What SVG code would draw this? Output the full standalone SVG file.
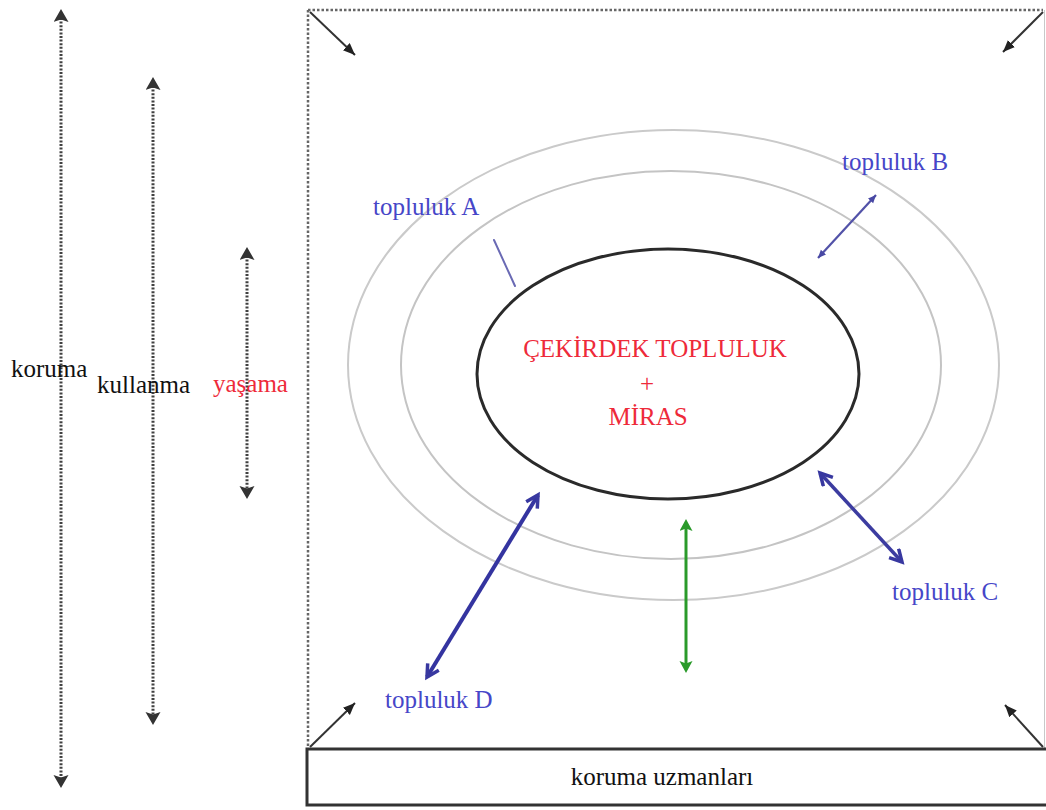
<svg xmlns="http://www.w3.org/2000/svg" width="1046" height="810" viewBox="0 0 1046 810">
<defs>
<style>
.t{font-family:"Liberation Serif","Times New Roman",serif;font-size:25px}
.blue{fill:#4646c8}
.red{fill:#ee2a3a}
.blk{fill:#111}
.dots{stroke:#404040;stroke-width:3;stroke-dasharray:2 1.6;fill:none}
.frame{stroke:#666;stroke-width:2.5;stroke-dasharray:2.5 2;fill:none}
.corner{stroke:#333;stroke-width:2;fill:none}
</style>
<marker id="mDot" markerUnits="userSpaceOnUse" markerWidth="16" markerHeight="16" refX="4" refY="7.5" orient="auto-start-reverse" viewBox="0 0 16 16">
<path d="M0,0 L13,7.5 L0,15 L2.5,7.5 z" fill="#333"/>
</marker>
<marker id="mCorner" markerUnits="userSpaceOnUse" markerWidth="14" markerHeight="12" refX="12" refY="5" orient="auto" viewBox="0 0 14 12">
<path d="M0,0 L12,5 L0,10 z" fill="#222"/>
</marker>
<marker id="mB" markerUnits="userSpaceOnUse" markerWidth="10" markerHeight="10" refX="8" refY="3.5" orient="auto-start-reverse" viewBox="0 0 10 10">
<path d="M0,0 L8,3.5 L0,7 z" fill="#4848a4"/>
</marker>
<marker id="mBig" markerUnits="userSpaceOnUse" markerWidth="18" markerHeight="18" refX="13" refY="8" orient="auto-start-reverse" viewBox="0 0 18 18">
<path d="M1,1.5 L13,8 L1,14.5" fill="none" stroke="#3838a0" stroke-width="3.5" stroke-linejoin="miter"/>
</marker>
<marker id="mGreen" markerUnits="userSpaceOnUse" markerWidth="16" markerHeight="16" refX="4" refY="6.5" orient="auto-start-reverse" viewBox="0 0 16 16">
<path d="M0,0 L12,6.5 L0,13 L2.5,6.5 z" fill="#2a9a2a"/>
</marker>
</defs>
<rect x="0" y="0" width="1046" height="810" fill="#fff"/>

<g id="frame">
<line class="frame" x1="308" y1="10" x2="308" y2="748"/>
<line class="frame" x1="308" y1="10" x2="1043" y2="10"/>
<line x1="1044.5" y1="10" x2="1044.5" y2="748" stroke="#c8c8c8" stroke-width="1"/>
</g>

<g id="rings">
<ellipse id="ring-outer" cx="673.5" cy="365" rx="325.5" ry="235" fill="none" stroke="#cacaca" stroke-width="2"/>
<ellipse id="ring-middle" cx="671" cy="365" rx="270" ry="194" fill="none" stroke="#c4c4c4" stroke-width="2"/>
</g>

<g id="core">
<ellipse cx="668" cy="374" rx="191" ry="125" fill="none" stroke="#2a2a2a" stroke-width="3"/>
<text class="t red" x="655" y="357" text-anchor="middle">ÇEKİRDEK TOPLULUK</text>
<text class="t red" x="647" y="392" text-anchor="middle">+</text>
<text class="t red" x="648" y="425" text-anchor="middle">MİRAS</text>
</g>

<g id="connectors">
<line class="dots" x1="61" y1="18" x2="61" y2="779" marker-start="url(#mDot)" marker-end="url(#mDot)"/>
<line class="dots" x1="153" y1="86" x2="153" y2="716" marker-start="url(#mDot)" marker-end="url(#mDot)"/>
<line class="dots" x1="247" y1="256" x2="247" y2="490" marker-start="url(#mDot)" marker-end="url(#mDot)"/>
<line class="corner" x1="310" y1="12" x2="355" y2="55" marker-end="url(#mCorner)"/>
<line class="corner" x1="1043" y1="12" x2="1003" y2="52" marker-end="url(#mCorner)"/>
<line class="corner" x1="310" y1="747" x2="355" y2="703" marker-end="url(#mCorner)"/>
<line class="corner" x1="1043" y1="747" x2="1005" y2="705" marker-end="url(#mCorner)"/>
<line x1="494" y1="240" x2="515" y2="286" stroke="#6a6ab4" stroke-width="2" stroke-linecap="round"/>
<line x1="818" y1="258" x2="876" y2="195" stroke="#5252a8" stroke-width="2.2" marker-start="url(#mB)" marker-end="url(#mB)"/>
<line x1="820" y1="473" x2="902" y2="562" stroke="#3c3ca0" stroke-width="3.5" marker-start="url(#mBig)" marker-end="url(#mBig)"/>
<line x1="538" y1="495" x2="427" y2="677" stroke="#3434a0" stroke-width="4" marker-start="url(#mBig)" marker-end="url(#mBig)"/>
<line x1="686" y1="527" x2="686" y2="665" stroke="#2a9a2a" stroke-width="3" marker-start="url(#mGreen)" marker-end="url(#mGreen)"/>
</g>

<g id="labels-left">
<text class="t blk" x="11" y="377">koruma</text>
<text class="t blk" x="97" y="393">kullanma</text>
<text class="t red" x="213" y="392">yaşama</text>
</g>

<g id="topluluk-A"><text class="t blue" x="373" y="215">topluluk A</text></g>
<g id="topluluk-B"><text class="t blue" x="842" y="170">topluluk B</text></g>
<g id="topluluk-C"><text class="t blue" x="892" y="600">topluluk C</text></g>
<g id="topluluk-D"><text class="t blue" x="385" y="708">topluluk D</text></g>

<g id="koruma-uzmanlari">
<rect x="307" y="749" width="750" height="56" fill="#fff" stroke="#333" stroke-width="3"/>
<text class="t blk" x="662" y="785" text-anchor="middle">koruma uzmanları</text>
</g>
</svg>
